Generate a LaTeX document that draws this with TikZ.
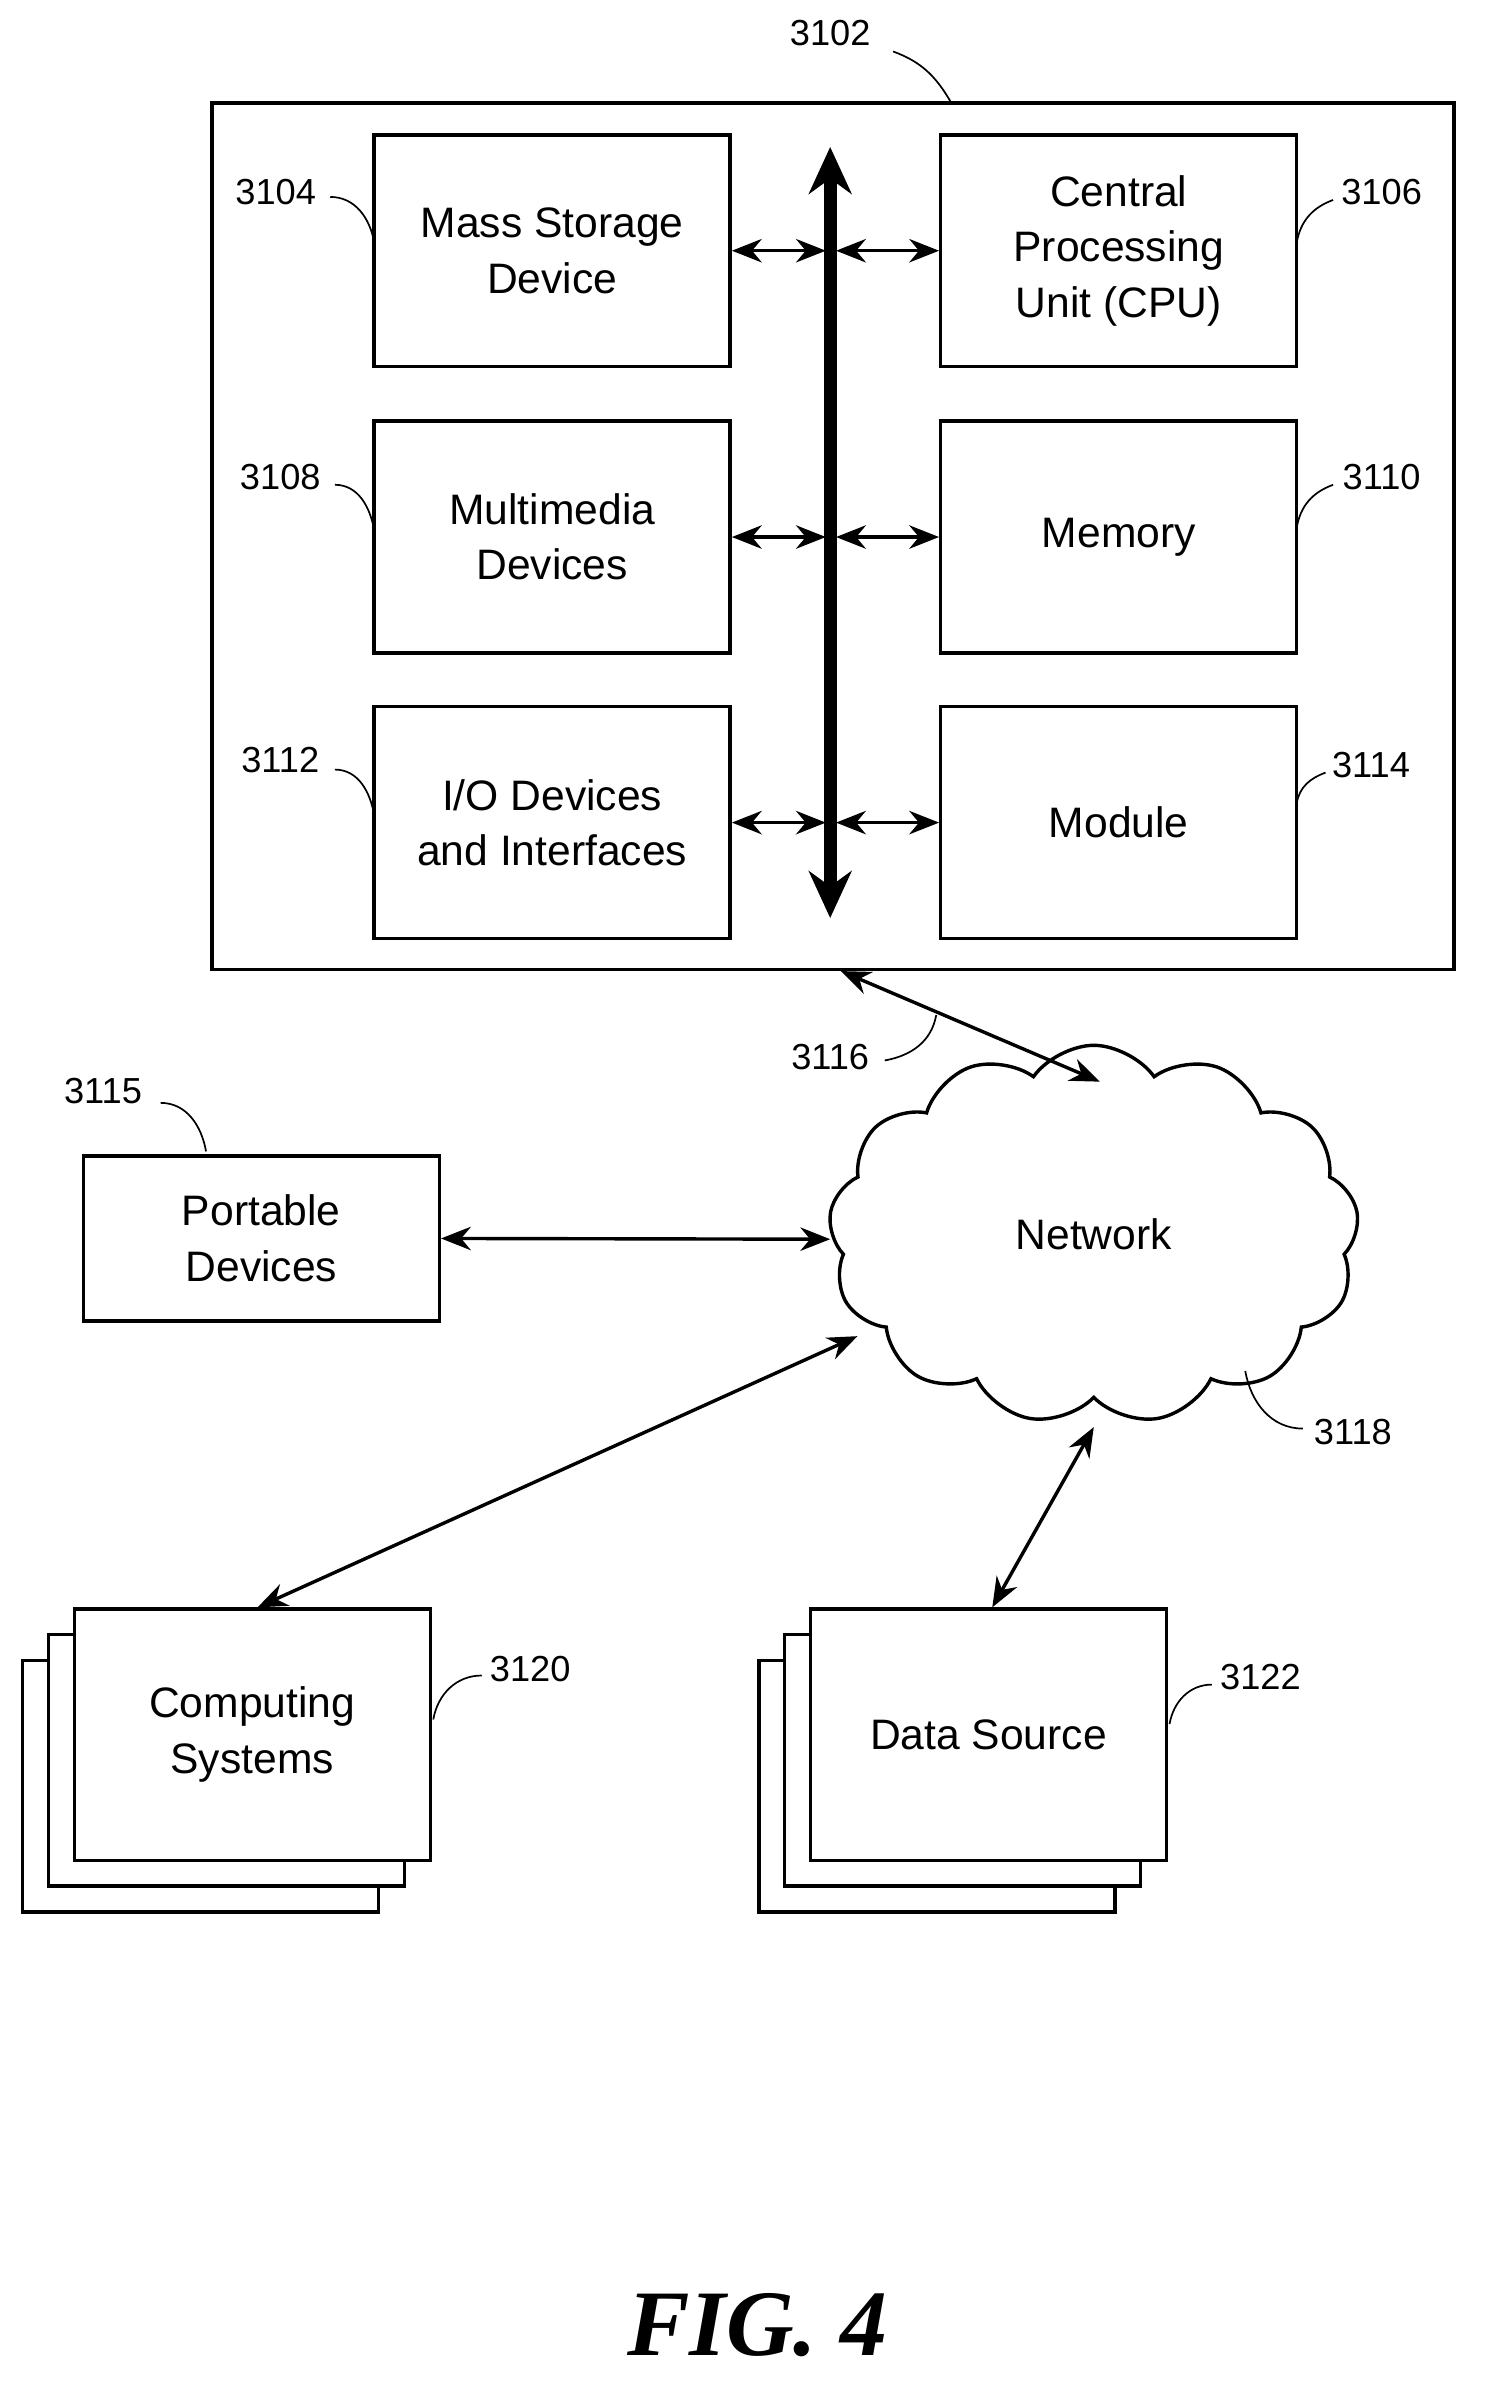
\documentclass[tikz,border=0pt]{standalone}
\usepackage{fontspec}
\setmainfont{Liberation Sans}
\usetikzlibrary{positioning}
\usetikzlibrary{arrows.meta}
\usetikzlibrary{shapes.symbols}

\begin{document}
\begin{tikzpicture}[
x=0.025cm,y=-0.025cm,
box/.style={
	% The shape:
	rectangle,draw,line width=1.6pt,
	% The size:
	minimum width=235*0.025cm,minimum height=153*0.025cm,
	fill=white,align=center,
	font=\fontsize{20}{26}\selectfont},
ref/.style={font=\fontsize{17}{20}\selectfont},
lead/.style={line width=0.8pt},
link/.style={{Stealth[length=14pt,width=11pt]}-{Stealth[length=14pt,width=11pt]},line width=1.6pt},
]
\useasboundingbox (0,0) rectangle (980,1575);

% the computer
\node (comp) [draw,line width=1.8pt,minimum width=820*0.025cm,minimum height=572*0.025cm] at (550,354) {};
\node (mass) [box] at (364.5,165.5) {Mass Storage\\Device};
\node (cpu) [box] at (738.5,165.5) {Central\\Processing\\Unit (CPU)};
\node (mm) [box] at (364.5,354.5) {Multimedia\\Devices};
\node (mem) [box] at (738.5,354.5) {Memory};
\node (io) [box] at (364.5,543) {I/O Devices\\and Interfaces};
\node (mod) [box] at (738.5,543) {Module};

\coordinate (bustop) at (548,97);
\coordinate (busbot) at (548,606);
\draw[{Stealth[length=22pt,width=20pt]}-{Stealth[length=22pt,width=20pt]},line width=6pt] (bustop) -- (busbot);
\foreach \b in {mass,mm,io} {
	\draw[link] (\b.east) -- ++(62,0);
}
\foreach \b in {cpu,mem,mod} {
	\draw[link] (\b.west) -- ++(-68,0);
}

% the outside
\node (net) [cloud,draw,line width=1.6pt,cloud puffs=13,cloud puff arc=110,aspect=1.3,
	minimum width=350*0.025cm,minimum height=250*0.025cm,font=\fontsize{20}{26}\selectfont] at (722,815) {Network};
\node (port) [box,minimum height=109*0.025cm] at (172.5,817.5) {Portable\\Devices};

\draw[line width=1.6pt,fill=white] (15,1096) rectangle ++(235,166);
\draw[line width=1.6pt,fill=white] (501,1096) rectangle ++(235,166);
\draw[line width=1.6pt,fill=white] (15+17,1096-17) rectangle ++(235,166);
\draw[line width=1.6pt,fill=white] (501+17,1096-17) rectangle ++(235,166);
\node (cs) [box,minimum height=166*0.025cm] at (166.5,1145) {Computing\\Systems};
\node (ds) [box,minimum height=166*0.025cm] at (652.5,1145) {Data Source};

\coordinate (nettop) at (726,714);
\coordinate (netleft) at (548,818);
\coordinate (netsw) at (566,882);
\coordinate (netbot) at (722,942);
\coordinate (cstop) at (170,1061);
\coordinate (dstop) at (655,1061);
\draw[link] (555,641) -- (nettop);
\draw[link] (port.east) -- (netleft);
\draw[link] (cstop) -- (netsw);
\draw[link] (dstop) -- (netbot);

% reference numerals
\node (r3102) [ref] at (548,22) {3102};
\draw[lead] (r3102.east) ++(10,12) to[out=-20,in=120] (628,68);
\node (r3104) [ref] at (182,127) {3104};
\draw[lead] (218,130) to[out=0,in=100] (247,160);
\node (r3106) [ref] at (912,127) {3106};
\draw[lead] (880,132) to[out=200,in=80] (856,160);
\node (r3108) [ref] at (185,315) {3108};
\draw[lead] (221,320) to[out=0,in=100] (247,350);
\node (r3110) [ref] at (912,315) {3110};
\draw[lead] (880,320) to[out=200,in=80] (856,348);
\node (r3112) [ref] at (185,502) {3112};
\draw[lead] (221,508) to[out=0,in=100] (247,538);
\node (r3114) [ref] at (905,505) {3114};
\draw[lead] (875,510) to[out=200,in=80] (856,530);
\node (r3116) [ref] at (548,698) {3116};
\draw[lead] (584,700) to[out=10,in=-100] (618,670);
\node (r3115) [ref] at (68,720) {3115};
\draw[lead] (106,728) to[out=0,in=100] (136,760);
\node (r3118) [ref] at (893,945) {3118};
\draw[lead] (860,943) to[out=180,in=-80] (822,905);
\node (r3120) [ref] at (350,1102) {3120};
\draw[lead] (318,1106) to[out=180,in=80] (286,1135);
\node (r3122) [ref] at (832,1107) {3122};
\draw[lead] (800,1112) to[out=180,in=80] (772,1138);

\node (fig) at (500,1535) {\setmainfont{Liberation Serif}\fontsize{44}{50}\selectfont\bfseries\itshape FIG. 4};
\end{tikzpicture}
\end{document}
